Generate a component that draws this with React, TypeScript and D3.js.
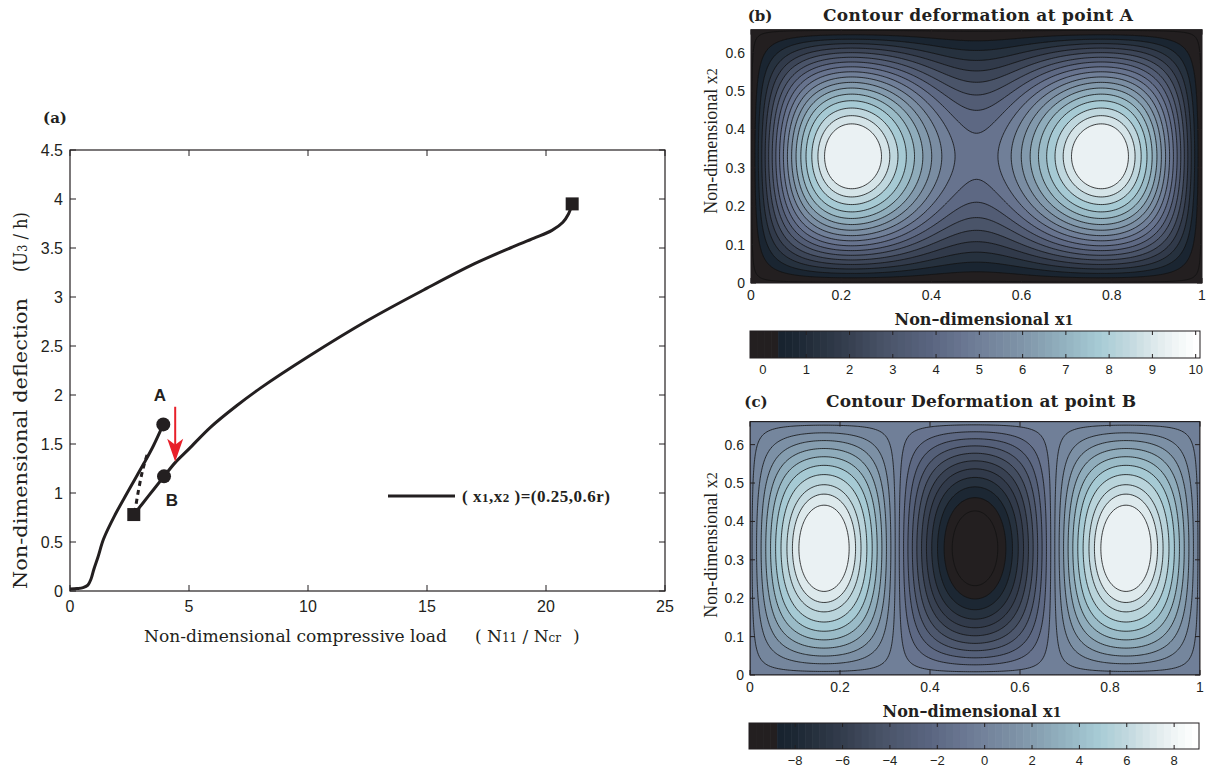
import React, { useMemo } from 'react';
import * as d3 from 'd3';

const W = 1215;
const H = 774;

// ---------- Panel (a): load–deflection path ----------
const loadTicks = [0, 5, 10, 15, 20, 25];
const deflTicks = [0, 0.5, 1, 1.5, 2, 2.5, 3, 3.5, 4, 4.5];
const pathToA: [number, number][] = [
  [0, 0.02], [0.3, 0.025], [0.55, 0.035], [0.75, 0.06], [0.88, 0.12], [1.0, 0.22],
  [1.18, 0.35], [1.41, 0.53], [1.9, 0.78], [2.4, 1.0], [3.1, 1.3], [3.5, 1.48], [3.92, 1.7],
];
const pathFromB: [number, number][] = [
  [2.68, 0.78], [3.3, 0.97], [3.95, 1.17], [4.42, 1.31], [5.0, 1.45], [5.9, 1.67], [7.0, 1.89],
  [8.0, 2.07], [10, 2.39], [12.5, 2.76], [15, 3.09], [17, 3.34], [18.5, 3.5], [19.5, 3.6],
  [20.25, 3.68], [20.7, 3.76], [20.95, 3.85], [21.1, 3.95],
];
const jumpPath: [number, number][] = [[2.72, 0.8], [2.88, 1.03], [3.06, 1.24], [3.25, 1.4]];
const circlePts = [
  { x: 3.92, y: 1.7, name: 'A', lx: 3.78, ly: 2.0 },
  { x: 3.95, y: 1.17, name: 'B', lx: 4.28, ly: 0.93 },
];
const squarePts = [{ x: 2.68, y: 0.78 }, { x: 21.1, y: 3.95 }];
const arrowLoad = 4.42;
const arrowFrom = 1.88;
const arrowTo = 1.32;

// ---------- Panels (b), (c): plate deflection maps ----------
const x1Ticks = [0, 0.2, 0.4, 0.6, 0.8, 1];
const x2Ticks = [0, 0.1, 0.2, 0.3, 0.4, 0.5, 0.6];
const plateSpan = 0.66;
// modal amplitudes w = sum a_m sin(m pi x1) sin(pi x2 / span)
const modesA = [{ m: 1, amp: 9.39 }, { m: 3, amp: 4.7 }];
const modesB = [{ m: 1, amp: -0.63 }, { m: 3, amp: 9.32 }];
const levelsA = [0.1, 0.65, 1.2, 1.75, 2.3, 2.85, 3.4, 3.95, 4.5, 5.05, 5.6, 6.15, 6.7, 7.25, 7.8, 8.35, 8.85, 9.3];
const levelsB = [-8.9, -8.05, -7.2, -6.35, -5.5, -4.65, -3.8, -2.95, -2.1, -1.25, -0.4,
  0.4, 1.25, 2.1, 2.95, 3.8, 4.65, 5.5, 6.35, 7.05, 7.75];
const cbarRangeA: [number, number] = [-0.3, 10.1];
const cbarRangeB: [number, number] = [-9.95, 9.05];
const cbarTicksA = [0, 1, 2, 3, 4, 5, 6, 7, 8, 9, 10];
const cbarTicksB = [-8, -6, -4, -2, 0, 2, 4, 6, 8];
const cmapStops = [0, 0.05, 0.06, 0.1, 0.2, 0.3, 0.4, 0.5, 0.6, 0.7, 0.78, 0.85, 0.91, 0.96, 1];
const cmapColors = ['#231f20', '#231f20', '#18222e', '#1d2834', '#333c4c', '#4a5469', '#5a6580',
  '#6f7d97', '#7e93a7', '#92b1bf', '#a7cbd5', '#c2d9df', '#e0eaed', '#f3f7f8', '#ffffff'];

const sansFont = "'Liberation Sans', Arial, Helvetica, sans-serif";
const serifFont = "'Liberation Serif', 'Times New Roman', serif";
const wideSerif = "'DejaVu Serif', 'Liberation Serif', serif";
const INK = '#231f20';

const cmapLinear = d3.scaleLinear<string>().domain(cmapStops).range(cmapColors).interpolate(d3.interpolateRgb);
const NCOL = 64;
function cmapColor(f: number) {
  const k = Math.max(0, Math.min(NCOL - 1, Math.floor(f * NCOL)));
  return cmapLinear(k / (NCOL - 1));
}

// Panel (a) geometry
const aX0 = 70, aX1 = 665, aY0 = 150, aY1 = 591;

function PanelA() {
  const x = d3.scaleLinear().domain([0, 25]).range([aX0, aX1]);
  const y = d3.scaleLinear().domain([0, 4.5]).range([aY1, aY0]);
  const line = d3.line<[number, number]>().x(d => x(d[0])).y(d => y(d[1])).curve(d3.curveCatmullRom.alpha(0.5));
  const ax = x(arrowLoad);
  const tipY = y(arrowTo);
  return (
    <g>
      <text x={55} y={123} fontFamily={wideSerif} fontSize={15} fill={INK} textAnchor="middle" fontWeight="bold">(a)</text>
      <rect x={aX0} y={aY0} width={aX1 - aX0} height={aY1 - aY0} fill="none" stroke={INK} strokeWidth={1.2} />
      {loadTicks.map(t => (
        <g key={'xt' + t}>
          <line x1={x(t)} x2={x(t)} y1={aY1} y2={aY1 - 6} stroke={INK} />
          <line x1={x(t)} x2={x(t)} y1={aY0} y2={aY0 + 6} stroke={INK} />
          <text x={x(t)} y={612} textAnchor="middle" fontFamily={sansFont} fontSize={16} fill={INK}>{t}</text>
        </g>
      ))}
      {deflTicks.map(t => (
        <g key={'yt' + t}>
          <line x1={aX0} x2={aX0 + 6} y1={y(t)} y2={y(t)} stroke={INK} />
          <line x1={aX1} x2={aX1 - 6} y1={y(t)} y2={y(t)} stroke={INK} />
          <text x={63} y={y(t) + 6} textAnchor="end" fontFamily={sansFont} fontSize={16} fill={INK}>{t}</text>
        </g>
      ))}
      <path d={line(pathToA) || ''} fill="none" stroke={INK} strokeWidth={3} />
      <path d={line(pathFromB) || ''} fill="none" stroke={INK} strokeWidth={3} />
      <path d={line(jumpPath) || ''} fill="none" stroke={INK} strokeWidth={3} strokeDasharray="5,4" />
      {circlePts.map(p => (
        <g key={p.name}>
          <circle cx={x(p.x)} cy={y(p.y)} r={7} fill={INK} />
          <text x={x(p.lx)} y={y(p.ly) + 6} textAnchor="middle" fontFamily={sansFont} fontWeight="bold" fontSize={17} fill={INK}>{p.name}</text>
        </g>
      ))}
      {squarePts.map((p, i) => (
        <rect key={'sq' + i} x={x(p.x) - 6.5} y={y(p.y) - 6.5} width={13} height={13} fill={INK} />
      ))}
      <line x1={ax} x2={ax} y1={y(arrowFrom)} y2={tipY - 14} stroke="#e8202a" strokeWidth={2} />
      <path d={`M${ax},${tipY} L${ax - 8},${tipY - 23} L${ax},${tipY - 17} L${ax + 8},${tipY - 23} Z`} fill="#e8202a" />
      {/* legend */}
      <line x1={388} x2={455} y1={496} y2={496} stroke={INK} strokeWidth={3} />
      <text x={462} y={502} fontFamily={serifFont} fontSize={17} fontWeight="bold" fill={INK} textLength={148} lengthAdjust="spacing">
        ( x<tspan fontSize={13}>1</tspan>,x<tspan fontSize={13}>2</tspan> )=(0.25,0.6r)
      </text>
      {/* axis labels */}
      <text x={144} y={642} fontFamily={wideSerif} fontSize={17} fill={INK} textLength={303} lengthAdjust="spacingAndGlyphs">Non-dimensional compressive load</text>
      <text x={475} y={642} fontFamily={wideSerif} fontSize={17} fill={INK}>(</text>
      <text x={487} y={642} fontFamily={wideSerif} fontSize={17} fill={INK}>
        N<tspan fontSize={12}>11</tspan> / N<tspan fontSize={12}>cr</tspan>
      </text>
      <text x={573} y={642} fontFamily={wideSerif} fontSize={17} fill={INK}>)</text>
      <text transform="translate(27,589) rotate(-90)" fontFamily={wideSerif} fontSize={19} fill={INK} textLength={291} lengthAdjust="spacingAndGlyphs">Non-dimensional deflection</text>
      <text transform="translate(27,272) rotate(-90)" fontFamily={wideSerif} fontSize={19} fill={INK} textLength={60} lengthAdjust="spacingAndGlyphs">
        (U<tspan fontSize={13}>3</tspan> / h)
      </text>
    </g>
  );
}

interface MapProps {
  id: string;
  left: number; right: number; bottom: number;
  modes: { m: number; amp: number }[];
  levels: number[];
  range: [number, number];
  cbarTicks: number[];
  cbarTop: number; cbarH: number; cbarLeft: number; cbarRight: number;
  tag: string; title: string; titleY: number; tagX: number; titleX: number;
  ylabelY: number; xlabelX: number;
}

function MapPanel(p: MapProps) {
  const top = p.bottom - 253.4;
  const sx = d3.scaleLinear().domain([0, 1]).range([p.left, p.right]);
  const sy = d3.scaleLinear().domain([0, plateSpan]).range([p.bottom, top]);
  const nx = 241, ny = 161;
  const { polys, minV } = useMemo(() => {
    const vals = new Array(nx * ny);
    let mn = Infinity;
    for (let j = 0; j < ny; j++) {
      const yy = (j / (ny - 1)) * plateSpan;
      for (let i = 0; i < nx; i++) {
        const xx = i / (nx - 1);
        let v = 0;
        for (const md of p.modes) v += md.amp * Math.sin(md.m * Math.PI * xx) * Math.sin((Math.PI * yy) / plateSpan);
        vals[j * nx + i] = v;
        if (v < mn) mn = v;
      }
    }
    const cs = d3.contours().size([nx, ny]).thresholds(p.levels)(vals);
    return { polys: cs, minV: mn };
  }, [p.modes, p.levels]);
  const proj = d3.geoTransform({
    point(px: number, py: number) {
      const gx = Math.max(0, Math.min(1, (px - 0.5) / (nx - 1)));
      const gy = Math.max(0, Math.min(1, (py - 0.5) / (ny - 1)));
      (this as any).stream.point(sx(gx), sy(gy * plateSpan));
    },
  });
  const gp = d3.geoPath(proj);
  const frac = d3.scaleLinear().domain(p.range).range([0, 1]);
  const cb = d3.scaleLinear().domain(p.range).range([p.cbarLeft, p.cbarRight]);
  const cells = d3.range(NCOL);
  const cw = (p.cbarRight - p.cbarLeft) / NCOL;
  return (
    <g>
      <defs>
        <clipPath id={'clip' + p.id}>
          <rect x={p.left} y={top} width={p.right - p.left} height={p.bottom - top} />
        </clipPath>
      </defs>
      <text x={p.tagX} y={p.titleY} textAnchor="middle" fontFamily={wideSerif} fontWeight="bold" fontSize={15} fill={INK}>{p.tag}</text>
      <text x={p.titleX} y={p.titleY} textAnchor="middle" fontFamily={wideSerif} fontWeight="bold" fontSize={17} fill={INK} textLength={310} lengthAdjust="spacing">{p.title}</text>
      <g clipPath={`url(#clip${p.id})`}>
        <rect x={p.left} y={top} width={p.right - p.left} height={p.bottom - top} fill={cmapColor(frac(minV))} />
        {polys.map((c, i) => (
          <path key={i} d={gp(c as any) || ''} fill={cmapColor(frac(c.value))} stroke="#111" strokeWidth={0.8} />
        ))}
      </g>
      <rect x={p.left} y={top} width={p.right - p.left} height={p.bottom - top} fill="none" stroke={INK} strokeWidth={1} />
      {x1Ticks.map(t => (
        <g key={'x' + t}>
          <line x1={sx(t)} x2={sx(t)} y1={p.bottom} y2={p.bottom - 5} stroke={INK} />
          <line x1={sx(t)} x2={sx(t)} y1={top} y2={top + 5} stroke={INK} />
          <text x={sx(t)} y={p.bottom + 17} textAnchor="middle" fontFamily={sansFont} fontSize={14} fill={INK}>{t}</text>
        </g>
      ))}
      {x2Ticks.map(t => (
        <g key={'y' + t}>
          <line x1={p.left} x2={p.left + 5} y1={sy(t)} y2={sy(t)} stroke={INK} />
          <line x1={p.right} x2={p.right - 5} y1={sy(t)} y2={sy(t)} stroke={INK} />
          <text x={p.left - 6} y={sy(t) + 5} textAnchor="end" fontFamily={sansFont} fontSize={14} fill={INK}>{t}</text>
        </g>
      ))}
      <text transform={`translate(717,${p.ylabelY}) rotate(-90)`} textAnchor="middle" fontFamily={serifFont} fontSize={18} fill={INK}>
        Non-dimensional x<tspan fontSize={14}>2</tspan>
      </text>
      <text x={p.xlabelX} y={p.bottom + 42} textAnchor="middle" fontFamily={wideSerif} fontWeight="bold" fontSize={16} fill={INK}>
        Non–dimensional x<tspan fontSize={13}>1</tspan>
      </text>
      {cells.map(k => (
        <rect key={'c' + k} x={p.cbarLeft + k * cw} y={p.cbarTop} width={cw + 0.6} height={p.cbarH} fill={cmapLinear(k / (NCOL - 1))} />
      ))}
      <rect x={p.cbarLeft} y={p.cbarTop} width={p.cbarRight - p.cbarLeft} height={p.cbarH} fill="none" stroke={INK} strokeWidth={1} />
      {p.cbarTicks.map(t => (
        <g key={'cb' + t}>
          <line x1={cb(t)} x2={cb(t)} y1={p.cbarTop} y2={p.cbarTop + 4} stroke={INK} />
          <line x1={cb(t)} x2={cb(t)} y1={p.cbarTop + p.cbarH} y2={p.cbarTop + p.cbarH - 4} stroke={INK} />
          <text x={cb(t)} y={p.cbarTop + p.cbarH + 16} textAnchor="middle" fontFamily={sansFont} fontSize={13} fill={INK}>
            {t < 0 ? '−' + Math.abs(t) : t}
          </text>
        </g>
      ))}
    </g>
  );
}

export default function App() {
  return (
    <svg width={W} height={H} viewBox={`0 0 ${W} ${H}`} style={{ display: 'block', position: 'absolute', left: 0, top: 0, background: '#fff' }}>
      <rect x={0} y={0} width={W} height={H} fill="#fff" />
      <PanelA />
      <MapPanel id="b" left={751} right={1202} bottom={283} modes={modesA} levels={levelsA} range={cbarRangeA}
        cbarTicks={cbarTicksA} cbarTop={331} cbarH={27} cbarLeft={750} cbarRight={1200}
        tag="(b)" title="Contour deformation at point A" titleY={21} tagX={760} titleX={978}
        ylabelY={141} xlabelX={984} />
      <MapPanel id="c" left={750} right={1200} bottom={675} modes={modesB} levels={levelsB} range={cbarRangeB}
        cbarTicks={cbarTicksB} cbarTop={723} cbarH={26} cbarLeft={749} cbarRight={1199}
        tag="(c)" title="Contour Deformation at point B" titleY={407} tagX={756} titleX={981}
        ylabelY={545} xlabelX={972} />
    </svg>
  );
}
